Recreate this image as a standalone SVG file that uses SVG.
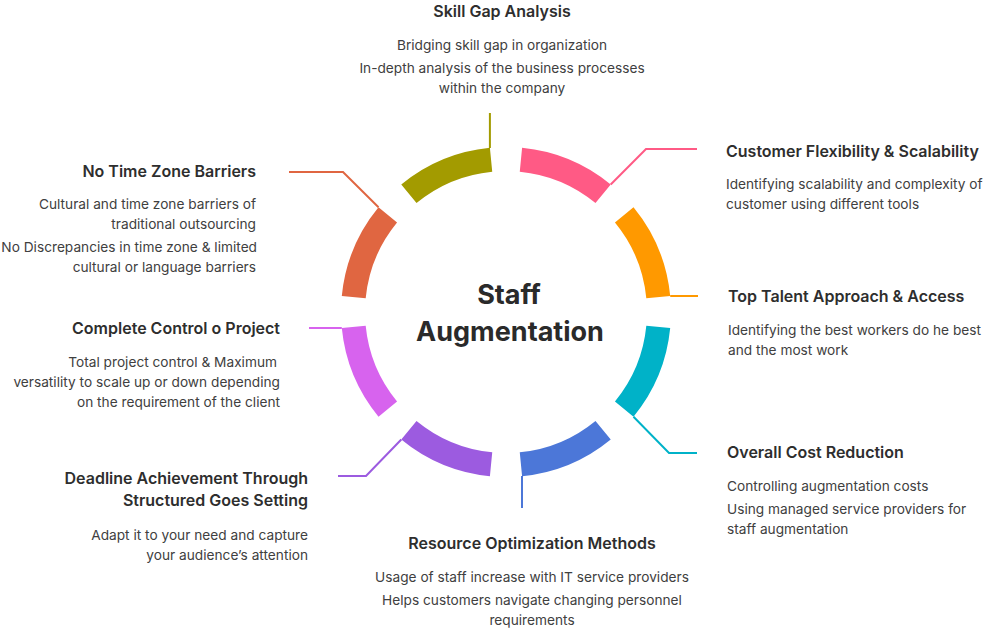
<svg xmlns="http://www.w3.org/2000/svg" width="988" height="630" viewBox="0 0 988 630">
<style>
.t{font-family:Inter,"Noto Sans",sans-serif;font-weight:600;font-size:16px;fill:#2e2e2e}
.d{font-family:Inter,"Noto Sans",sans-serif;font-weight:400;font-size:13.7px;fill:#404040}
.c{font-family:Inter,"Noto Sans",sans-serif;font-weight:700;font-size:27px;fill:#2a2a2a}
.m{text-anchor:middle}
.e{text-anchor:end}
.ln{fill:none;stroke-width:2}
</style>
<rect width="988" height="630" fill="#ffffff"/>
<g id="connectors">
<polyline class="ln" stroke="#A39B00" points="489.9,148 489.9,113"/>
<polyline class="ln" stroke="#FF5A85" points="610.7,184.5 646,149 697,149"/>
<polyline class="ln" stroke="#FF9900" points="670.2,296 698,296"/>
<polyline class="ln" stroke="#00B2C8" points="633.5,416.7 669,453 697,453"/>
<polyline class="ln" stroke="#4C77D8" points="522,476 522,508"/>
<polyline class="ln" stroke="#9C5BE0" points="401.3,439.5 366,476 338,476"/>
<polyline class="ln" stroke="#D763EE" points="341.8,328.1 309,328"/>
<polyline class="ln" stroke="#E06641" points="378.5,207.3 343,172 289,172"/>
</g>
<g id="center">
<text class="c m" x="509" y="304">Staff</text>
<text class="c m" x="510" y="341">Augmentation</text>
</g>
<g id="skill-gap">
<path fill="#A39B00" d="M401.27,184.50 A165,165 0 0 1 489.90,147.79 L492.24,171.68 A141,141 0 0 0 416.51,203.05 Z"/>
<text class="t m" x="502" y="17">Skill Gap Analysis</text>
<text class="d m" x="502" y="50">Bridging skill gap in organization</text>
<text class="d m" x="502" y="73">In-depth analysis of the business processes</text>
<text class="d m" x="502" y="93">within the company</text>
</g>
<g id="customer-flexibility">
<path fill="#FF5A85" d="M522.10,147.79 A165,165 0 0 1 610.73,184.50 L595.49,203.05 A141,141 0 0 0 519.76,171.68 Z"/>
<text class="t" x="726" y="157">Customer Flexibility &amp; Scalability</text>
<text class="d" x="726" y="189">Identifying scalability and complexity of</text>
<text class="d" x="726" y="209">customer using different tools</text>
</g>
<g id="top-talent">
<path fill="#FF9900" d="M633.50,207.27 A165,165 0 0 1 670.21,295.90 L646.32,298.24 A141,141 0 0 0 614.95,222.51 Z"/>
<text class="t" x="728" y="302">Top Talent Approach &amp; Access</text>
<text class="d" x="728" y="335">Identifying the best workers do he best</text>
<text class="d" x="728" y="355">and the most work</text>
</g>
<g id="cost-reduction">
<path fill="#00B2C8" d="M670.21,328.10 A165,165 0 0 1 633.50,416.73 L614.95,401.49 A141,141 0 0 0 646.32,325.76 Z"/>
<text class="t" x="727" y="458">Overall Cost Reduction</text>
<text class="d" x="727" y="491">Controlling augmentation costs</text>
<text class="d" x="727" y="514">Using managed service providers for</text>
<text class="d" x="727" y="534">staff augmentation</text>
</g>
<g id="resource-optimization">
<path fill="#4C77D8" d="M610.73,439.50 A165,165 0 0 1 522.10,476.21 L519.76,452.32 A141,141 0 0 0 595.49,420.95 Z"/>
<text class="t m" x="532" y="549">Resource Optimization Methods</text>
<text class="d m" x="532" y="582">Usage of staff increase with IT service providers</text>
<text class="d m" x="532" y="605">Helps customers navigate changing personnel</text>
<text class="d m" x="532" y="625">requirements</text>
</g>
<g id="deadline">
<path fill="#9C5BE0" d="M489.90,476.21 A165,165 0 0 1 401.27,439.50 L416.51,420.95 A141,141 0 0 0 492.24,452.32 Z"/>
<text class="t e" x="308" y="484">Deadline Achievement Through</text>
<text class="t e" x="308" y="506">Structured Goes Setting</text>
<text class="d e" x="308" y="540">Adapt it to your need and capture</text>
<text class="d e" x="308" y="560">your audience’s attention</text>
</g>
<g id="complete-control">
<path fill="#D763EE" d="M378.50,416.73 A165,165 0 0 1 341.79,328.10 L365.68,325.76 A141,141 0 0 0 397.05,401.49 Z"/>
<text class="t e" x="280" y="334">Complete Control o Project</text>
<text class="d e" x="277" y="367">Total project control &amp; Maximum</text>
<text class="d e" x="280" y="387">versatility to scale up or down depending</text>
<text class="d e" x="280" y="407">on the requirement of the client</text>
</g>
<g id="time-zone">
<path fill="#E06641" d="M341.79,295.90 A165,165 0 0 1 378.50,207.27 L397.05,222.51 A141,141 0 0 0 365.68,298.24 Z"/>
<text class="t e" x="256" y="177">No Time Zone Barriers</text>
<text class="d e" x="256" y="209">Cultural and time zone barriers of</text>
<text class="d e" x="256" y="229">traditional outsourcing</text>
<text class="d e" x="257" y="252">No Discrepancies in time zone &amp; limited</text>
<text class="d e" x="256" y="272">cultural or language barriers</text>
</g>
</svg>
